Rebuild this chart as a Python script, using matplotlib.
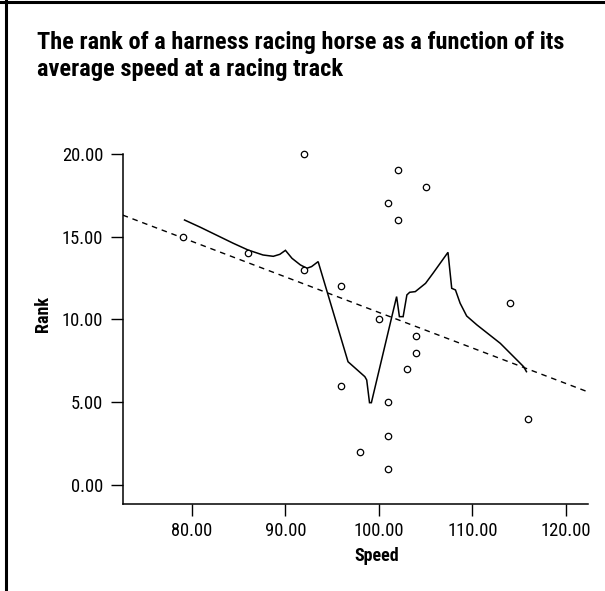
import matplotlib
matplotlib.use("Agg")
import matplotlib.pyplot as plt
from matplotlib import font_manager
from matplotlib.lines import Line2D
import numpy as np

# ---- data ----
speed = [79, 86, 92, 92, 96, 102, 105, 101, 102, 100,
         104, 114, 104, 103, 96, 101, 116, 101, 98, 101]
rank = [15, 14, 20, 13, 12, 19, 18, 17, 16, 10,
        9, 11, 8, 7, 6, 5, 4, 3, 2, 1]

# loess fit line
loess_x = [79.2, 80.9, 84.4, 86.0, 87.6, 88.7, 89.4, 90.0, 90.7, 91.6, 92.3,
           92.8, 93.5, 96.7, 98.5, 98.7, 99.0, 99.2, 101.9, 102.2, 102.6,
           103.0, 103.3, 103.9, 105.0, 105.8, 107.4, 107.8, 108.2, 108.7,
           109.4, 110.5, 113.0, 115.5, 115.8]
loess_y = [16.0, 15.56, 14.6, 14.19, 13.89, 13.81, 13.93, 14.17, 13.69, 13.29,
           13.09, 13.19, 13.49, 7.45, 6.55, 6.35, 4.98, 4.98, 11.38, 10.17,
           10.17, 11.48, 11.64, 11.68, 12.18, 12.79, 14.05, 11.88, 11.78, 10.98,
           10.21, 9.67, 8.56, 7.15, 6.85]

x_ticks = [80, 90, 100, 110, 120]
y_ticks = [0, 5, 10, 15, 20]
title = "The rank of a harness racing horse as a function of its\naverage speed at a racing track"
x_label = "Speed"
y_label = "Rank"

# ---- fonts ----
avail = {f.name for f in font_manager.fontManager.ttflist}
narrow = "Liberation Sans"
for cand in ["Liberation Sans Narrow", "Arial Narrow", "Nimbus Sans Narrow",
             "Roboto Condensed", "Archivo Narrow", "PT Sans Narrow",
             "Fira Sans Condensed", "IBM Plex Sans Condensed",
             "Encode Sans Condensed", "Sofia Sans Condensed"]:
    if cand in avail:
        narrow = cand
        break

W, H = 605, 591
fig = plt.figure(figsize=(W / 100, H / 100), dpi=100)
fig.patch.set_facecolor("white")

ax = fig.add_axes([122.7 / W, 1 - 504.3 / H, (588.3 - 122.7) / W, (504.3 - 153.7) / H])
ax.set_xlim(72.58, 122.42)
ax.set_ylim(-1.15, 20.0)

# regression line
coef = np.polyfit(speed, rank, 1)
xx = np.array(ax.get_xlim())
ax.plot(xx, np.polyval(coef, xx), color="black", lw=1.0, ls=(0, (4, 3.5)))

# loess line
ax.plot(loess_x, loess_y, color="black", lw=1.1, solid_joinstyle="miter")

# points
ax.plot(speed, rank, ls="none", marker="o", ms=4.6, mfc="white", mec="black",
        mew=0.9, clip_on=False, zorder=3)

for s in ["top", "right"]:
    ax.spines[s].set_visible(False)
for s in ["left", "bottom"]:
    ax.spines[s].set_linewidth(1.1)

ax.set_xticks(x_ticks)
ax.set_yticks(y_ticks)
ax.set_xticklabels([f"{v:.2f}" for v in x_ticks])
ax.set_yticklabels([f"{v:.2f}" for v in y_ticks])
ax.tick_params(length=8.5, width=1.0, labelsize=13.3)
ax.tick_params(axis="x", pad=4)
ax.tick_params(axis="y", pad=5.5)
for lab in ax.get_xticklabels() + ax.get_yticklabels():
    lab.set_fontfamily(narrow)

ax.set_xlabel(x_label, fontsize=13, fontweight="bold", family=narrow)
ax.set_ylabel(y_label, fontsize=13, fontweight="bold", family=narrow)
ax.xaxis.set_label_coords(0.545, -0.122)
ax.yaxis.set_label_coords(-0.152, 0.544)

fig.text(36.7 / W, 1 - 31 / H, title, ha="left", va="top", fontsize=17.6,
         fontweight="bold", family=narrow, linespacing=1.2)

# border on top and left
fig.add_artist(Line2D([0, 1], [1 - 1.5 / H, 1 - 1.5 / H], transform=fig.transFigure,
                      color="black", lw=2.2))
fig.add_artist(Line2D([5.5 / W, 5.5 / W], [0, 1], transform=fig.transFigure,
                      color="black", lw=2.2))

fig.savefig("out.png", dpi=100)
